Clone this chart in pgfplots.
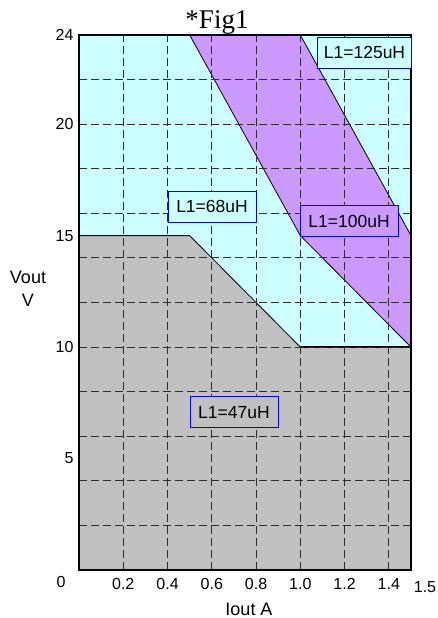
\documentclass[border=0pt]{standalone}
\usepackage{fontspec}
\setmainfont{Liberation Sans}
\newfontfamily\titlefont{Liberation Serif}
\usepackage{pgfplots}
\pgfplotsset{compat=1.18}

\definecolor{cyanbg}{RGB}{204,255,255}
\definecolor{purplebg}{RGB}{204,153,255}
\definecolor{graybg}{RGB}{192,192,192}
\definecolor{gridgray}{RGB}{45,45,45}

\begin{document}
\begin{tikzpicture}[
  lbox/.style={draw=blue, line width=0.8pt, inner sep=0pt, minimum height=31pt,
    font=\fontsize{17.5}{17.5}\selectfont},
]
\begin{axis}[
  at={(0pt,0pt)}, anchor=south west,
  scale only axis, width=332pt, height=535pt,
  xmin=0, xmax=1.5, ymin=0, ymax=24,
  xtick={0.2,0.4,0.6,0.8,1.0,1.2,1.4},
  xticklabels={0.2,0.4,0.6,0.8,1.0,1.2,1.4},
  ytick={5,10,15,20,24},
  yticklabels={5,10,15,20,24},
  minor ytick={2,4,...,22},
  xmajorgrids, yminorgrids,
  major tick length=0pt, minor tick length=0pt,
  major grid style={gridgray, line width=0.9pt, dash pattern=on 8pt off 4pt},
  minor grid style={gridgray, line width=0.9pt, dash pattern=on 8pt off 4pt},
  axis background/.style={fill=cyanbg},
  axis on top,
  axis line style={black, line width=1.2pt},
  tick label style={font=\fontsize{16}{16}\selectfont},
  xticklabel style={yshift=-5pt},
  yticklabel style={xshift=-2pt},
]
% L1=100uH band
\addplot[fill=purplebg, draw=none] coordinates {(0.5,24) (1.0,24) (1.5,15) (1.5,10) (1.0,15) (0.5,24)};
% L1=47uH area
\addplot[fill=graybg, draw=none] coordinates {(0,0) (0,15) (0.5,15) (1.0,10) (1.5,10) (1.5,0) (0,0)};
% boundaries
\addplot[black, line width=0.8pt] coordinates {(0,15) (0.5,15) (1.0,10) (1.5,10)};
\addplot[black, line width=0.8pt] coordinates {(0.5,24) (1.0,15) (1.5,10)};
\addplot[black, line width=0.8pt] coordinates {(1.0,24) (1.5,15)};
\addplot[black, line width=1.6pt] coordinates {(1.0,10) (1.5,10)};

\coordinate (l125) at (axis cs:1.29,23.2);
\coordinate (l68) at (axis cs:0.601,16.29);
\coordinate (l100) at (axis cs:1.22,15.64);
\coordinate (l47) at (axis cs:0.70,7.07);
\end{axis}
\node[lbox, fill=cyanbg, minimum width=94pt] at (l125) {L1=125uH};
\node[lbox, fill=cyanbg, minimum width=88pt] at (l68) {L1=68uH};
\node[lbox, fill=purplebg, minimum width=98pt] at (l100) {L1=100uH};
\node[lbox, fill=graybg, minimum width=88pt] at (l47) {L1=47uH};

\node[font=\titlefont\fontsize{27}{27}\selectfont, anchor=base] at (138pt,541pt) {*Fig1};
\node[font=\fontsize{18}{23}\selectfont, align=center] at (-51pt,281pt) {Vout\\V};
\node[font=\fontsize{18}{18}\selectfont] at (170pt,-39pt) {Iout A};
\node[font=\fontsize{16}{16}\selectfont] at (-18pt,-12pt) {0};
\node[font=\fontsize{16}{16}\selectfont] at (346pt,-17pt) {1.5};
\pgfresetboundingbox
\path (-79pt,-48pt) rectangle (358pt,570pt);
\end{tikzpicture}
\end{document}
